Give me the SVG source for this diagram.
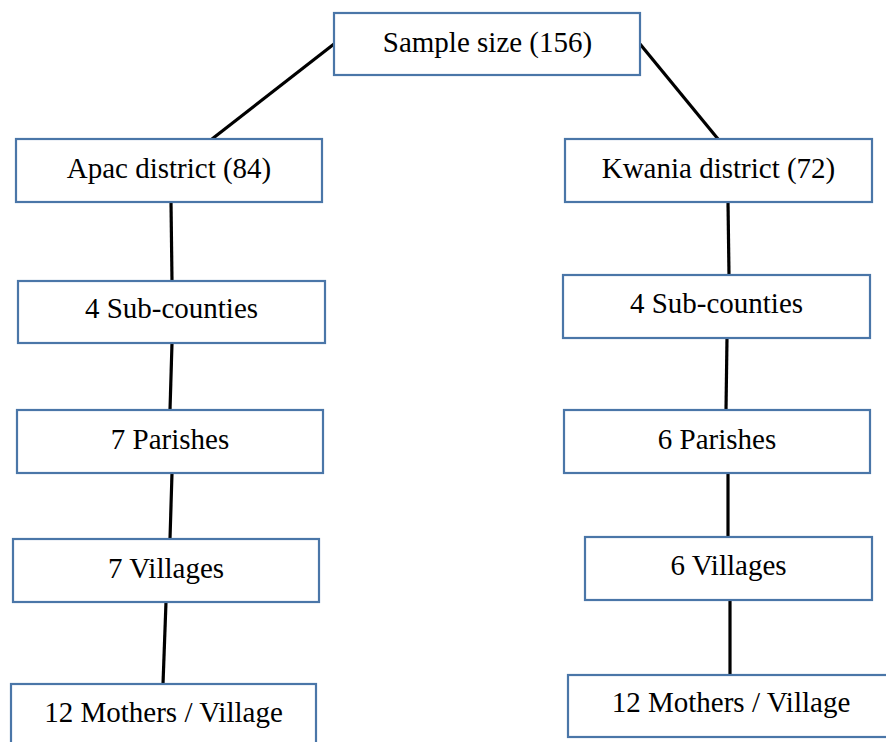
<svg xmlns="http://www.w3.org/2000/svg" width="886" height="742" viewBox="0 0 886 742">
<style>
.box{fill:#fff;stroke:#4a76a8;stroke-width:2.2}
.lbl{font-family:"Liberation Serif","Times New Roman",serif;font-size:29px;fill:#000;text-anchor:middle}
.con line{stroke:#000;stroke-width:3.2;stroke-linecap:butt}
</style>
<rect width="886" height="742" fill="#fff"/>
<g id="connectors" class="con">
<line x1="334" y1="44" x2="212" y2="139"/>
<line x1="640" y1="44" x2="718" y2="139"/>
<line x1="171" y1="202" x2="172" y2="281"/>
<line x1="172" y1="343" x2="170" y2="410"/>
<line x1="172" y1="473" x2="170" y2="539"/>
<line x1="166" y1="602" x2="163" y2="684"/>
<line x1="728" y1="202" x2="729" y2="275"/>
<line x1="727" y1="338" x2="726" y2="410"/>
<line x1="728" y1="473" x2="728" y2="537"/>
<line x1="730" y1="600" x2="730" y2="675"/>
</g>
<g id="sample"><rect class="box" x="334" y="13" width="306" height="62"/><text class="lbl" x="487.5" y="52">Sample size (156)</text></g>
<g id="apac"><rect class="box" x="16" y="139" width="306" height="63"/><text class="lbl" x="169" y="178">Apac district (84)</text></g>
<g id="apac-sub"><rect class="box" x="18" y="281" width="307" height="62"/><text class="lbl" x="171.5" y="318">4 Sub-counties</text></g>
<g id="apac-par"><rect class="box" x="17" y="410" width="306" height="63"/><text class="lbl" x="170" y="449">7 Parishes</text></g>
<g id="apac-vil"><rect class="box" x="13" y="539" width="306" height="63"/><text class="lbl" x="166" y="578">7 Villages</text></g>
<g id="apac-mot"><rect class="box" x="11" y="684" width="305" height="70"/><text class="lbl" x="163.5" y="722">12 Mothers / Village</text></g>
<g id="kwania"><rect class="box" x="565" y="139" width="307" height="63"/><text class="lbl" x="718.5" y="178">Kwania district (72)</text></g>
<g id="kwania-sub"><rect class="box" x="563" y="275" width="307" height="63"/><text class="lbl" x="716.5" y="313">4 Sub-counties</text></g>
<g id="kwania-par"><rect class="box" x="564" y="410" width="306" height="63"/><text class="lbl" x="717" y="449">6 Parishes</text></g>
<g id="kwania-vil"><rect class="box" x="585" y="537" width="287" height="63"/><text class="lbl" x="728.5" y="575">6 Villages</text></g>
<g id="kwania-mot"><rect class="box" x="568" y="675" width="326" height="62"/><text class="lbl" x="731" y="712">12 Mothers / Village</text></g>
</svg>
